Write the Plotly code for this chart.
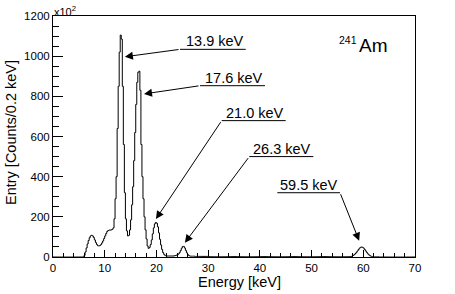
import numpy as np
import plotly.graph_objects as go

# ---------------- data ----------------
BIN_WIDTH = 0.2   # keV per bin
E_START = 0.0     # keV, low edge of first bin
# entries per 0.2 keV bin, in units of 10^2 ; one row = 1 keV (5 bins)
counts = [
    0, 0, 0, 0, 0,            # 0
    0, 0, 0, 0, 0,            # 1
    0, 0, 0, 0, 0,            # 2
    0, 0, 0, 0, 0,            # 3
    0, 0, 0, 0, 0,            # 4
    0, 0, 0, 0, 0,            # 5
    8, 25, 45, 65, 82,        # 6
    96, 105, 108, 105, 97,    # 7
    85, 72, 62, 56, 55,       # 8
    57, 62, 70, 80, 92,       # 9
    105, 117, 127, 132, 134,  # 10
    134, 135, 138, 145, 190,  # 11
    290, 400, 640, 850, 1020, # 12
    1105, 1085, 850, 560, 320,# 13
    190, 130, 105, 108, 135,  # 14
    185, 260, 350, 480, 620,  # 15
    760, 870, 920, 925, 830,  # 16
    560, 400, 290, 200, 135,  # 17
    90, 55, 43, 48, 62,       # 18
    85, 115, 145, 165, 172,   # 19
    168, 150, 120, 88, 60,    # 20
    38, 22, 13, 8, 6,         # 21
    5, 5, 5, 5, 5,            # 22
    5, 5, 6, 7, 9,            # 23
    11, 15, 22, 32, 44,       # 24
    52, 53, 45, 33, 21,       # 25
    12, 7, 5, 4, 4,           # 26
    4, 4, 3, 3, 3,            # 27
    3, 3, 3, 3, 3,            # 28
    3, 3, 3, 3, 3,            # 29
    2, 2, 2, 2, 2,            # 30
    2, 2, 2, 2, 2,            # 31
    2, 2, 2, 2, 2,            # 32
    2, 2, 2, 2, 2,            # 33
    2, 2, 2, 2, 2,            # 34
    2, 2, 2, 2, 2,            # 35
    2, 2, 2, 2, 2,            # 36
    2, 2, 2, 2, 2,            # 37
    2, 2, 2, 2, 2,            # 38
    2, 2, 2, 2, 2,            # 39
    2, 2, 2, 2, 2,            # 40
    2, 2, 2, 2, 2,            # 41
    2, 2, 2, 2, 2,            # 42
    2, 2, 2, 2, 2,            # 43
    2, 2, 2, 2, 2,            # 44
    2, 2, 2, 2, 2,            # 45
    2, 2, 2, 2, 2,            # 46
    2, 2, 2, 2, 2,            # 47
    2, 2, 2, 2, 2,            # 48
    2, 2, 2, 2, 2,            # 49
    2, 2, 2, 2, 2,            # 50
    2, 2, 2, 2, 2,            # 51
    2, 2, 2, 2, 2,            # 52
    2, 2, 2, 2, 2,            # 53
    2, 2, 2, 2, 2,            # 54
    2, 2, 2, 2, 2,            # 55
    2, 2, 2, 2, 2,            # 56
    2, 2, 2, 3, 5,            # 57
    8, 12, 17, 23, 30,        # 58
    37, 44, 48, 50, 48,       # 59
    44, 37, 30, 23, 16,       # 60
    11, 7, 4, 2, 1,           # 61
    1, 1, 1, 1, 1,            # 62
    0, 0, 0, 0, 0,            # 63
    0, 0, 0, 0, 0,            # 64
    0, 0, 0, 0, 0,            # 65
    0, 0, 0, 0, 0,            # 66
    0, 0, 0, 0, 0,            # 67
    0, 0, 0, 0, 0,            # 68
    0, 0, 0, 0, 0,            # 69
]

x_ticks = [0, 10, 20, 30, 40, 50, 60, 70]
y_ticks = [0, 200, 400, 600, 800, 1000, 1200]

peak_labels = ["13.9 keV", "17.6 keV", "21.0 keV", "26.3 keV", "59.5 keV"]
tip_x = [13.9, 17.6, 19.9, 25.5, 59.2]
tip_y = [997, 812, 189, 71, 81]
# underline segments of the labels (keV, counts)
line_x0 = [24.56, 28.43, 32.62, 37.96, 43.38]
line_x1 = [37.27, 41.00, 45.00, 50.34, 55.50]
line_y = [1034, 853, 679, 500, 320]
tail_side = ["left", "left", "left", "left", "right"]

FONT = "Liberation Sans, Arial, Helvetica, sans-serif"

# ---------------- figure ----------------
edges = E_START + BIN_WIDTH * np.arange(len(counts) + 1)
yvals = list(counts) + [counts[-1]]

fig = go.Figure()
fig.add_trace(go.Scatter(
    x=edges, y=yvals, mode="lines", line=dict(color="black", width=1, shape="hv"),
    hoverinfo="skip", showlegend=False,
))

annotations = []
shapes = []
for lab, tx, ty, x0, x1, ly, side in zip(peak_labels, tip_x, tip_y, line_x0, line_x1, line_y, tail_side):
    shapes.append(dict(type="line", xref="x", yref="y", x0=x0, x1=x1, y0=ly, y1=ly,
                       line=dict(color="black", width=1)))
    annotations.append(dict(xref="x", yref="y", x=x1, y=ly, text=lab, showarrow=False,
                            xanchor="right", yanchor="bottom", yshift=-2,
                            font=dict(family=FONT, size=14.5, color="black")))
    ax = x0 if side == "left" else x1
    annotations.append(dict(xref="x", yref="y", x=tx, y=ty, ax=ax, ay=ly,
                            axref="x", ayref="y", text="", showarrow=True,
                            arrowhead=2, arrowsize=1.6, arrowwidth=1, arrowcolor="black",
                            standoff=0, startstandoff=0))

PL, PT, PW, PH = 53, 16, 362, 241  # plot area in pixels


def px(xp):
    return (xp - PL) / PW


def py(yp):
    return (PT + PH - yp) / PH


# isotope label
annotations.append(dict(xref="paper", yref="paper", x=px(358), y=py(45.5), text="Am",
                        showarrow=False, xanchor="left", yanchor="middle", borderpad=0,
                        font=dict(family=FONT, size=19, color="black")))
annotations.append(dict(xref="paper", yref="paper", x=px(357.5), y=py(40.5), text="241",
                        showarrow=False, xanchor="right", yanchor="middle", borderpad=0,
                        font=dict(family=FONT, size=10.5, color="black")))
# axis multiplier
annotations.append(dict(xref="paper", yref="paper", x=px(53), y=py(10.5), text="x10<sup>2</sup>",
                        showarrow=False, xanchor="left", yanchor="middle", borderpad=0,
                        font=dict(family=FONT, size=11, color="black")))
# axis titles
annotations.append(dict(xref="paper", yref="paper", x=px(240), y=py(282), text="Energy [keV]",
                        showarrow=False, xanchor="center", yanchor="middle",
                        font=dict(family=FONT, size=14.5, color="black")))
annotations.append(dict(xref="paper", yref="paper", x=px(11), y=py(133), text="Entry [Counts/0.2 keV]",
                        showarrow=False, xanchor="center", yanchor="middle", textangle=-90,
                        font=dict(family=FONT, size=14.5, color="black")))

axis_common = dict(showgrid=False, zeroline=False, showline=True, mirror=True,
                   linecolor="black", linewidth=1, ticks="inside", tickcolor="black",
                   tickwidth=1, automargin=False,
                   tickfont=dict(family=FONT, size=11.5, color="black"))

fig.update_layout(
    width=455, height=294,
    margin=dict(l=PL, r=455 - PL - PW, t=PT, b=294 - PT - PH, autoexpand=False),
    paper_bgcolor="white", plot_bgcolor="white",
    showlegend=False,
    xaxis=dict(range=[0, 70], tickvals=x_ticks, ticklen=7,
               minor=dict(dtick=2, ticklen=4, ticks="inside", tickcolor="black", showgrid=False),
               **axis_common),
    yaxis=dict(range=[0, 1200], tickvals=y_ticks, ticklen=10,
               minor=dict(dtick=50, ticklen=6, ticks="inside", tickcolor="black", showgrid=False),
               **axis_common),
    annotations=annotations, shapes=shapes,
)

fig.write_html("out.html", config={"displayModeBar": False},
               post_script="document.body.style.margin='0';")
